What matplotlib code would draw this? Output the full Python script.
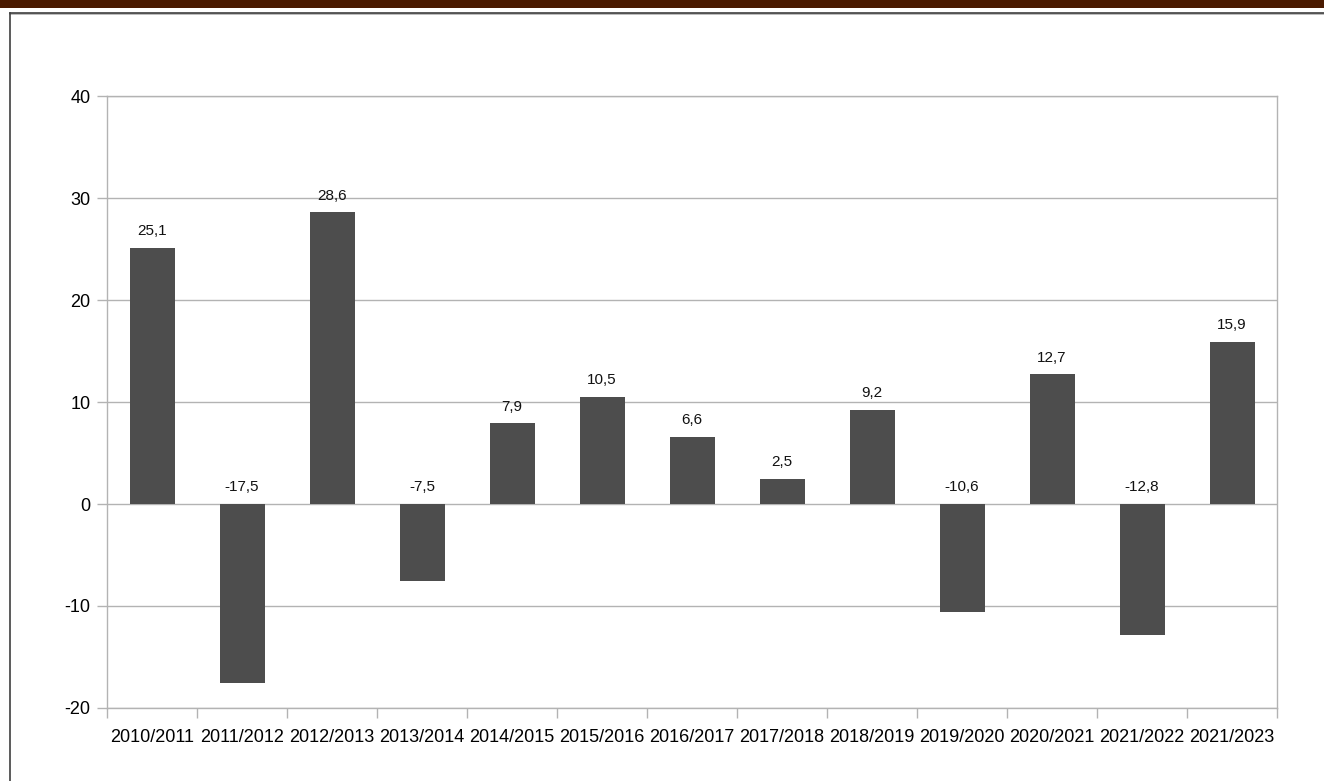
from matplotlib import pyplot as plt
from matplotlib.lines import Line2D
from matplotlib.patches import Rectangle
import numpy as np

seasons = ['2010/2011', '2011/2012', '2012/2013', '2013/2014', '2014/2015', '2015/2016',
           '2016/2017', '2017/2018', '2018/2019', '2019/2020', '2020/2021', '2021/2022', '2021/2023']
changes = [25.1, -17.5, 28.6, -7.5, 7.9, 10.5, 6.6, 2.5, 9.2, -10.6, 12.7, -12.8, 15.9]
y_ticks = [-20, -10, 0, 10, 20, 30, 40]

plt.rcParams['font.family'] = ['Liberation Sans', 'DejaVu Sans']

W, H = 1324, 781
fig = plt.figure(figsize=(W / 100, H / 100), dpi=100)

# brown header band and the frame around the chart
fig.patches.append(Rectangle((0, 1 - 8 / H), 1, 8 / H, transform=fig.transFigure,
                             facecolor='#4a1a00', edgecolor='none'))
fig.lines.append(Line2D([9.5 / W, 1], [1 - 13.5 / H, 1 - 13.5 / H], transform=fig.transFigure,
                        color='#b0b0b0', lw=1.2))
fig.lines.append(Line2D([9.5 / W, 1], [1 - 12.5 / H, 1 - 12.5 / H], transform=fig.transFigure,
                        color='#404040', lw=1.2))
fig.lines.append(Line2D([10 / W, 10 / W], [0, 1 - 12.5 / H], transform=fig.transFigure,
                        color='#404040', lw=1.2))

ax = fig.add_axes([107 / W, 1 - 708 / H, (1277 - 107) / W, (708 - 96) / H])
x = np.arange(len(seasons))
ax.bar(x, changes, width=0.5, color='#4d4d4d', zorder=3)

for xi, v in zip(x, changes):
    yl = v if v > 0 else 0
    ax.annotate(f'{v:.1f}'.replace('.', ','), (xi, yl), xytext=(0, 7), textcoords='offset points',
                ha='center', va='bottom', fontsize=11, color='#111111')

ax.set_xlim(-0.5, len(seasons) - 0.5)
ax.set_ylim(-20, 40)
ax.set_yticks(y_ticks)
ax.set_yticklabels([str(t) for t in y_ticks], fontsize=13)
ax.yaxis.grid(True, color='#b3b3b3', lw=1, zorder=0)
ax.set_xticks(x)
ax.set_xticklabels(seasons, fontsize=13)
ax.set_xticks(np.arange(len(seasons) + 1) - 0.5, minor=True)
ax.tick_params(axis='x', which='major', length=0, pad=15)
ax.tick_params(axis='x', which='minor', length=7, color='#b3b3b3', width=1)
ax.tick_params(axis='y', length=7, color='#b3b3b3', width=1, pad=5)
for s in ax.spines.values():
    s.set_color('#b3b3b3')
    s.set_linewidth(1)

plt.savefig('out.png', dpi=100)
